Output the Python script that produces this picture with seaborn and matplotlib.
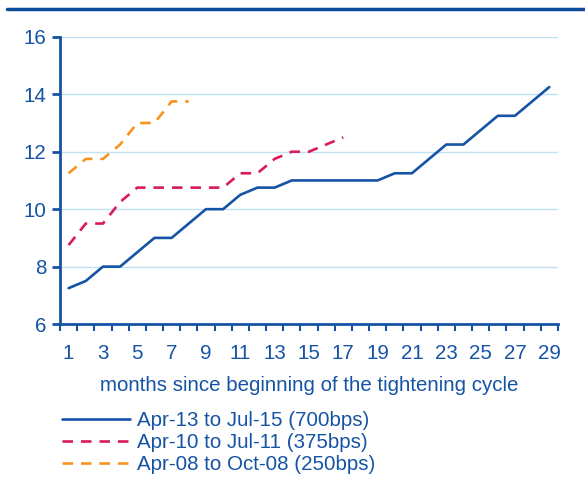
import numpy as np
import pandas as pd
import matplotlib
matplotlib.use("Agg")
import matplotlib.pyplot as plt
from matplotlib.lines import Line2D
import seaborn as sns

# datos (tasa en %, por mes desde el inicio del ciclo)
months_1315 = list(range(1, 30))
rate_1315 = [7.25, 7.5, 8.0, 8.0, 8.5, 9.0, 9.0, 9.5, 10.0, 10.0,
             10.5, 10.75, 10.75, 11.0, 11.0, 11.0, 11.0, 11.0, 11.0, 11.25,
             11.25, 11.75, 12.25, 12.25, 12.75, 13.25, 13.25, 13.75, 14.25]
months_1011 = list(range(1, 18))
rate_1011 = [8.75, 9.5, 9.5, 10.25, 10.75, 10.75, 10.75, 10.75, 10.75, 10.75,
             11.25, 11.25, 11.75, 12.0, 12.0, 12.25, 12.5]
months_08 = list(range(1, 9))
rate_08 = [11.25, 11.75, 11.75, 12.25, 13.0, 13.0, 13.75, 13.75]

labels = ["Apr-13 to Jul-15 (700bps)",
          "Apr-10 to Jul-11 (375bps)",
          "Apr-08 to Oct-08 (250bps)"]
x_ticklabels = [str(m) for m in range(1, 30, 2)]
y_ticks = [6, 8, 10, 12, 14, 16]

BLUE = "#1553a5"
colors = [BLUE, "#d81b5e", "#f7931e"]
FS = 14.8

df = pd.concat([
    pd.DataFrame({"month": months_1315, "rate": rate_1315, "period": labels[0]}),
    pd.DataFrame({"month": months_1011, "rate": rate_1011, "period": labels[1]}),
    pd.DataFrame({"month": months_08, "rate": rate_08, "period": labels[2]}),
])

sns.set_style("white")
plt.rcParams["font.family"] = ["Liberation Sans", "DejaVu Sans"]

fig = plt.figure(figsize=(5.85, 4.78), dpi=100)
ax = fig.add_axes([0.1026, 0.322, 0.851, 0.601])

sns.lineplot(data=df, x="month", y="rate", hue="period", style="period",
             palette=dict(zip(labels, colors)),
             dashes={labels[0]: "", labels[1]: (4, 3), labels[2]: (4, 3)},
             linewidth=1.9, ax=ax, legend=False)

ax.set_xlim(0.5, 29.5)
ax.set_ylim(6, 16)
ax.set_yticks(y_ticks)
ax.set_xticks(range(1, 30, 2))
ax.set_xticklabels(x_ticklabels)
ax.set_xticks(np.arange(0.5, 30, 1), minor=True)
ax.yaxis.grid(True, color="#bfe3f5", linewidth=1)
ax.xaxis.grid(False)
ax.set_axisbelow(True)

for s in ["top", "right"]:
    ax.spines[s].set_visible(False)
for s in ["left", "bottom"]:
    ax.spines[s].set_color(BLUE)
    ax.spines[s].set_linewidth(2)

ax.tick_params(axis="y", which="major", left=True, direction="out", length=6,
               width=2, color=BLUE, labelcolor=BLUE, labelsize=FS, pad=4)
ax.tick_params(axis="x", which="major", bottom=True, length=0,
               labelcolor=BLUE, labelsize=FS, pad=14)
ax.tick_params(axis="x", which="minor", bottom=True, direction="out", length=5,
               width=1.5, color=BLUE)

ax.set_xlabel("months since beginning of the tightening cycle", color=BLUE,
              fontsize=FS, labelpad=10)
ax.set_ylabel("")

handles = [Line2D([], [], color=colors[0], lw=1.9),
           Line2D([], [], color=colors[1], lw=1.9, dashes=(4, 3)),
           Line2D([], [], color=colors[2], lw=1.9, dashes=(4, 3))]
fig.legend(handles, labels, loc="upper left", bbox_to_anchor=(0.106, 0.14),
           frameon=False, fontsize=FS, labelcolor=BLUE, handlelength=3.3,
           handletextpad=0.35, labelspacing=0.15, borderpad=0, borderaxespad=0)

# linea azul de la cabecera
fig.add_artist(Line2D([0.012, 1.0], [0.982, 0.982], color="#0b4a9c", lw=2.5,
                      transform=fig.transFigure))

fig.savefig("out.png", dpi=100)
